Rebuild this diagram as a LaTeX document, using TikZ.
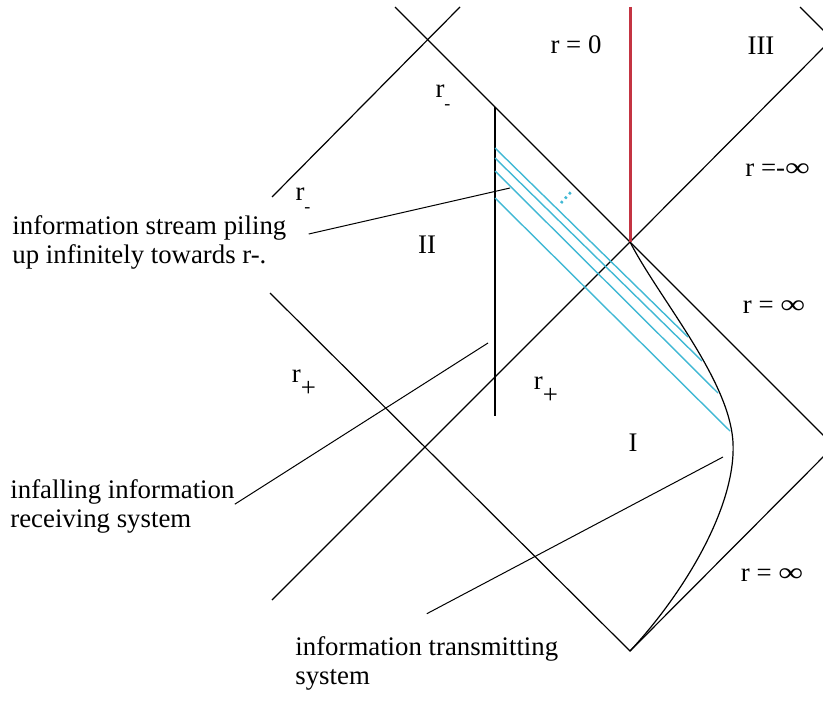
\documentclass[tikz,border=0pt]{standalone}
\usepackage{fontspec}
\setmainfont{Liberation Serif}

\definecolor{singred}{RGB}{196,52,66}
\definecolor{streamcyan}{RGB}{64,184,212}

\newcommand{\rminus}{r\raisebox{-0.45em}{\small -}}
\newcommand{\rplus}{r\raisebox{-0.5em}{+}}
\newcommand{\infy}{\scalebox{1.3}[1]{∞}}

\begin{document}
\begin{tikzpicture}[x=0.5pt,y=-0.5pt,
	lbl/.style={inner sep=0pt,font=\fontsize{13.4pt}{15pt}\selectfont},
	txt/.style={lbl,anchor=base west},
	horizon/.style={line width=0.6pt},
	signal/.style={streamcyan,line width=0.7pt},
	leader/.style={line width=0.5pt}]
	\useasboundingbox (0,0) rectangle (823,701);
	\clip (0,0) rectangle (823,701);

	% corners of region I
	\coordinate (top) at (630,242);
	\coordinate (bot) at (630,651);
	\coordinate (right) at (834,446);

	% horizons
	\draw[horizon] (395,7) -- (top) -- (right);
	\draw[horizon] (460,7) -- (272,197);
	\draw[horizon] (832,39) -- (top) -- (272,600);
	\draw[horizon] (800,7) -- (832,39);
	\draw[horizon] (270,293) -- (bot) -- (right);

	% singularity
	\draw[singred, line width=1.5pt] (630,7) -- (top);

	% worldline of the transmitter
	\draw[line width=0.6pt] (top) .. controls (660,300) and (730,380) .. (733,443)
		.. controls (736,506) and (685,592) .. (bot);

	% infalling receiver
	\draw[line width=1pt] (495,107) -- (495,416);

	% signals
	\draw[signal] (495,148) -- (688,337);
	\draw[signal] (495,158) -- (702,361);
	\draw[signal] (495,171) -- (718,393);
	\draw[signal] (495,198) -- (730,431);
	\draw[streamcyan, line width=1.3pt, dash pattern=on 1.2pt off 1.8pt] (561,203) -- (571,192);

	% region labels
	\node[lbl] (rzero) at (576,45) {r = 0};
	\node[lbl] (three) at (761,46) {III};
	\node[lbl, anchor=west] (rminf) at (745,170) {r =-\infy};
	\node[lbl] (rmtop) at (443,97) {\rminus};
	\node[lbl] (rmleft) at (303,200) {\rminus};
	\node[lbl] (two) at (427,245) {II};
	\node[lbl] (rinfa) at (774,307) {r = \infy};
	\node[lbl] (rpleft) at (304,383) {\rplus};
	\node[lbl] (rpright) at (546,390) {\rplus};
	\node[lbl] (one) at (633,443) {I};
	\node[lbl] (rinfb) at (772,575) {r = \infy};

	% annotations
	\node[txt] (pile1) at (12,234) {information stream piling};
	\node[txt] (pile2) at (12,263) {up infinitely towards r-.};
	\node[txt] (infall1) at (10,498) {infalling information};
	\node[txt] (infall2) at (10,527) {receiving system};
	\node[txt] (trans1) at (295,655) {information transmitting};
	\node[txt] (trans2) at (295,684) {system};

	\coordinate (pileend) at (510,188);
	\coordinate (infallend) at (488,343);
	\coordinate (transend) at (723,457);
	\draw[leader] ([xshift=11pt]pile1.base east) -- (pileend);
	\draw[leader] (infall1.south east) -- (infallend);
	\draw[leader] ([yshift=11pt]trans1.north) -- (transend);
\end{tikzpicture}
\end{document}
